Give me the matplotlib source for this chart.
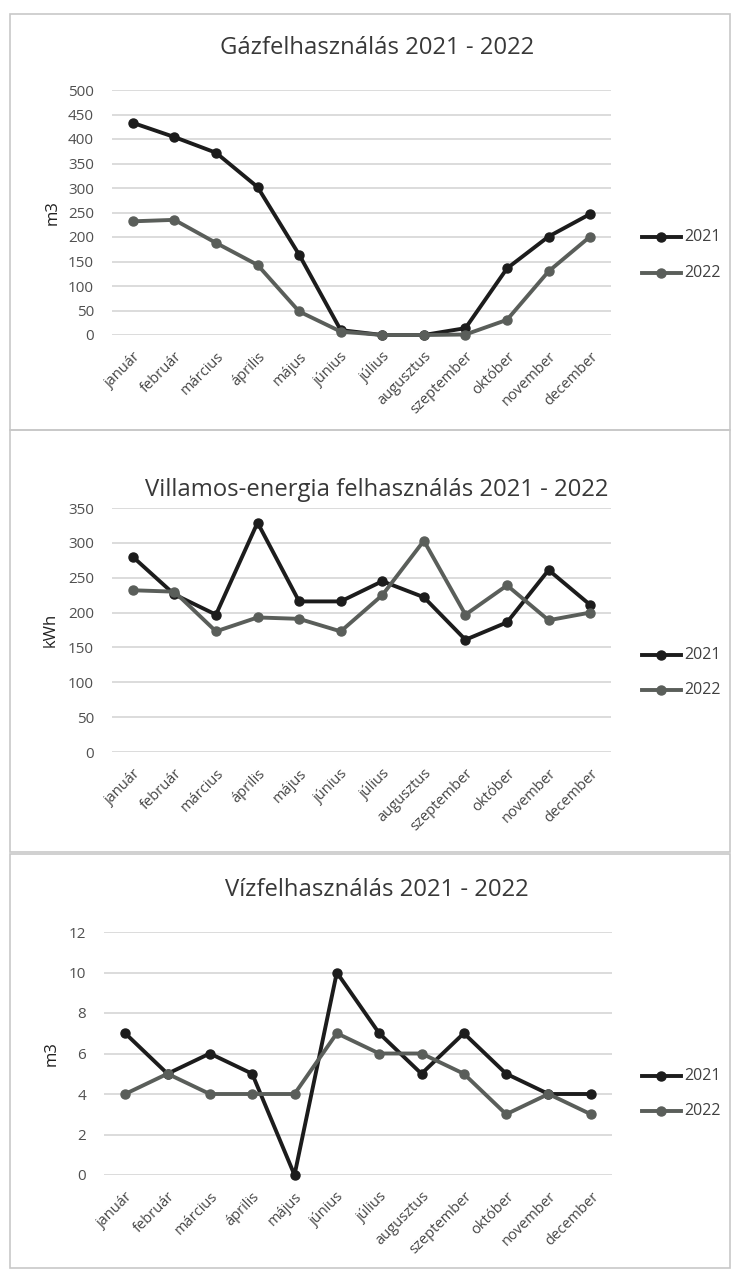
import matplotlib
matplotlib.use("Agg")
import matplotlib.pyplot as plt
from matplotlib.patches import Rectangle
from matplotlib.lines import Line2D

plt.rcParams['font.family'] = ['Open Sans', 'DejaVu Sans']

months = ["január", "február", "március", "április", "május", "június",
          "július", "augusztus", "szeptember", "október", "november", "december"]

gas_2021 = [433, 404, 372, 302, 164, 10, 0, 0, 14, 136, 201, 247]
gas_2022 = [232, 235, 188, 143, 48, 7, 0, 0, 1, 31, 130, 201]

elec_2021 = [280, 226, 197, 329, 216, 216, 245, 222, 161, 186, 261, 211]
elec_2022 = [232, 230, 173, 193, 191, 173, 225, 303, 197, 239, 189, 200]

water_2021 = [7, 5, 6, 5, 0, 10, 7, 5, 7, 5, 4, 4]
water_2022 = [4, 5, 4, 4, 4, 7, 6, 6, 5, 3, 4, 3]

series_labels = ["2021", "2022"]
colors = ["#1c1c1c", "#5a5e5a"]

W, H = 732, 1272
fig = plt.figure(figsize=(W / 100, H / 100), dpi=100)
fig.patch.set_facecolor("white")


def fx(px):
    return px / W


def fy(py):
    return 1 - py / H


# panel borders
for top, bot in [(14, 430), (430, 852), (854, 1268)]:
    fig.patches.append(Rectangle((fx(10), fy(bot)), fx(730) - fx(10), fy(top) - fy(bot),
                                 transform=fig.transFigure, fill=False,
                                 edgecolor="#c8c8c8", linewidth=1.2))

panels = [
    dict(title="Gázfelhasználás 2021 - 2022", ylabel="m3", data=(gas_2021, gas_2022),
         ymax=500, step=50, top=90, bottom=335, left=112, right=611, title_y=48,
         ylab_x=53, leg_y=(237, 273)),
    dict(title="Villamos-energia felhasználás 2021 - 2022", ylabel="kWh", data=(elec_2021, elec_2022),
         ymax=350, step=50, top=508, bottom=752, left=112, right=611, title_y=490,
         ylab_x=51, leg_y=(655, 690)),
    dict(title="Vízfelhasználás 2021 - 2022", ylabel="m3", data=(water_2021, water_2022),
         ymax=12, step=2, top=932, bottom=1175, left=104, right=612, title_y=890,
         ylab_x=52, leg_y=(1076, 1111)),
]

x = list(range(len(months)))
for p in panels:
    ax = fig.add_axes([fx(p["left"]), fy(p["bottom"]), fx(p["right"]) - fx(p["left"]),
                       fy(p["top"]) - fy(p["bottom"])])
    for d, c in zip(p["data"], colors):
        ax.plot(x, d, color=c, linewidth=2.8, marker="o", markersize=6.5,
                markerfacecolor=c, markeredgecolor=c, zorder=3, clip_on=False)
    ax.set_xlim(-0.5, len(months) - 0.5)
    ax.set_ylim(0, p["ymax"])
    ax.set_yticks(list(range(0, p["ymax"] + 1, p["step"])))
    ax.yaxis.grid(True, color="#d6d6d6", linewidth=1.2)
    ax.set_axisbelow(True)
    for s in ax.spines.values():
        s.set_visible(False)
    ax.tick_params(axis="y", length=0, labelsize=11, colors="#505050", pad=13)
    ax.set_xticks(x)
    ax.set_xticklabels(months, rotation=45, ha="right", rotation_mode="anchor",
                       fontsize=10.5, color="#454545")
    ax.tick_params(axis="x", length=0, pad=10)
    fig.text(fx(377), fy(p["title_y"]), p["title"], ha="center", va="center",
             fontsize=17.2, color="#383838")
    fig.text(fx(p["ylab_x"]), fy((p["top"] + p["bottom"]) / 2), p["ylabel"], rotation=90,
             ha="center", va="center", fontsize=12, color="#202020")
    # legend
    for lab, c, ly in zip(series_labels, colors, p["leg_y"]):
        fig.add_artist(Line2D([fx(642), fx(681)], [fy(ly), fy(ly)], color=c, linewidth=2.8,
                              transform=fig.transFigure))
        fig.add_artist(Line2D([fx(661)], [fy(ly)], color=c, marker="o", markersize=6.5,
                              transform=fig.transFigure))
        fig.text(fx(684), fy(ly), lab, ha="left", va="center", fontsize=11.5, color="#404040")

fig.savefig("out.png", dpi=100, facecolor="white")
